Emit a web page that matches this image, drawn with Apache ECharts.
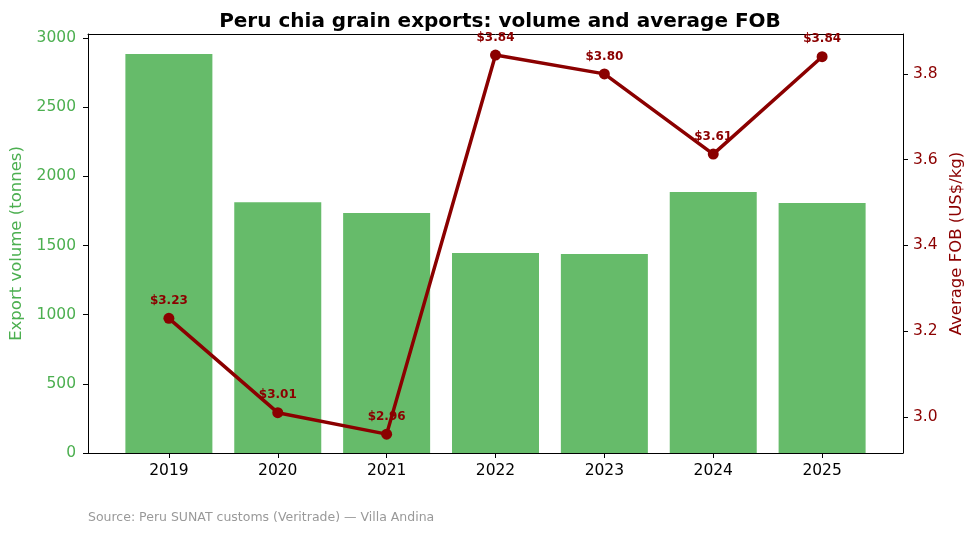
<!DOCTYPE html>
<html>
<head>
<meta charset="utf-8">
<script src="https://cdn.jsdelivr.net/npm/echarts@6/dist/echarts.min.js"></script>
<style>
    html, body { margin: 0; padding: 0; background: #fff; }
    #chart { width: 975px; height: 534px; }
</style>
</head>
<body>
<div id="chart"></div>
<script>
    // data
    var years = ['2019', '2020', '2021', '2022', '2023', '2024', '2025'];
    var volume = [2885, 1813, 1735, 1446, 1439, 1887, 1808];
    var fob = [3.23, 3.01, 2.96, 3.844, 3.80, 3.613, 3.84];
    var fobTicks = [3.0, 3.2, 3.4, 3.6, 3.8];

    var green = '#66bb6a';
    var greenText = '#4caf50';
    var red = '#8b0000';
    var font = 'DejaVu Sans';
    var xPos = years.map(function (y, i) { return i; });

    var chart = echarts.init(document.getElementById('chart'));
    chart.setOption({
        animation: false,
        textStyle: { fontFamily: font },
        title: {
            text: 'Peru chia grain exports: volume and average FOB',
            left: 495, top: 7, textAlign: 'center',
            textStyle: { fontSize: 20, fontWeight: 'bold', color: '#000', fontFamily: font }
        },
        graphic: [{
            type: 'text', left: 88, top: 511,
            style: { text: 'Source: Peru SUNAT customs (Veritrade) \u2014 Villa Andina', fill: '#999', font: '12.5px "DejaVu Sans"' }
        }],
        grid: { left: 88, right: 72, top: 34, bottom: 81 },
        xAxis: [{
            type: 'value', min: -0.743, max: 6.743,
            splitLine: { show: false },
            axisLine: { onZero: false, lineStyle: { color: '#000', width: 1 } },
            axisTick: { show: true, length: 5, customValues: xPos, lineStyle: { color: '#000' } },
            axisLabel: {
                customValues: xPos, color: '#000', fontSize: 15.5, margin: 10,
                formatter: function (v) { return years[Math.round(v)]; }
            }
        }, {
            // top frame of the axes box
            type: 'value', position: 'top', min: -0.743, max: 6.743,
            splitLine: { show: false },
            axisLine: { show: true, onZero: false, lineStyle: { color: '#000', width: 1 } },
            axisTick: { show: false },
            axisLabel: { show: false }
        }],
        yAxis: [{
            type: 'value', position: 'left', min: 0, max: 3029, interval: 500,
            name: 'Export volume (tonnes)', nameLocation: 'middle', nameGap: 58, nameRotate: 90,
            nameTextStyle: { color: greenText, fontSize: 16.5 },
            splitLine: { show: false },
            axisLine: { show: true, onZero: false, lineStyle: { color: '#000' } },
            axisTick: { show: true, length: 5, lineStyle: { color: '#000' } },
            axisLabel: {
                color: greenText, fontSize: 15.5, margin: 12, showMaxLabel: false,
                formatter: function (v) { return String(v); }
            }
        }, {
            type: 'value', position: 'right', min: 2.916, max: 3.893,
            name: 'Average FOB (US$/kg)', nameLocation: 'middle', nameGap: 44, nameRotate: 90,
            nameTextStyle: { color: red, fontSize: 16.5 },
            splitLine: { show: false },
            axisLine: { show: true, onZero: false, lineStyle: { color: '#000' } },
            axisTick: { show: true, length: 5, customValues: fobTicks, lineStyle: { color: '#000' } },
            axisLabel: {
                color: red, fontSize: 15.5, margin: 10,
                customValues: fobTicks,
                formatter: function (v) { return v.toFixed(1); }
            }
        }],
        series: [{
            type: 'bar', yAxisIndex: 0, barWidth: 87,
            itemStyle: { color: green },
            data: volume.map(function (v, i) { return [i, v]; })
        }, {
            type: 'line', yAxisIndex: 1,
            symbol: 'circle', symbolSize: 11,
            lineStyle: { color: red, width: 3.5 },
            itemStyle: { color: red },
            label: {
                show: true, position: 'top', distance: 6,
                color: red, fontSize: 12, fontWeight: 'bold',
                formatter: function (p) { return '$' + p.value[1].toFixed(2); }
            },
            data: fob.map(function (v, i) { return [i, v]; }),
            z: 5
        }]
    });
</script>
</body>
</html>
